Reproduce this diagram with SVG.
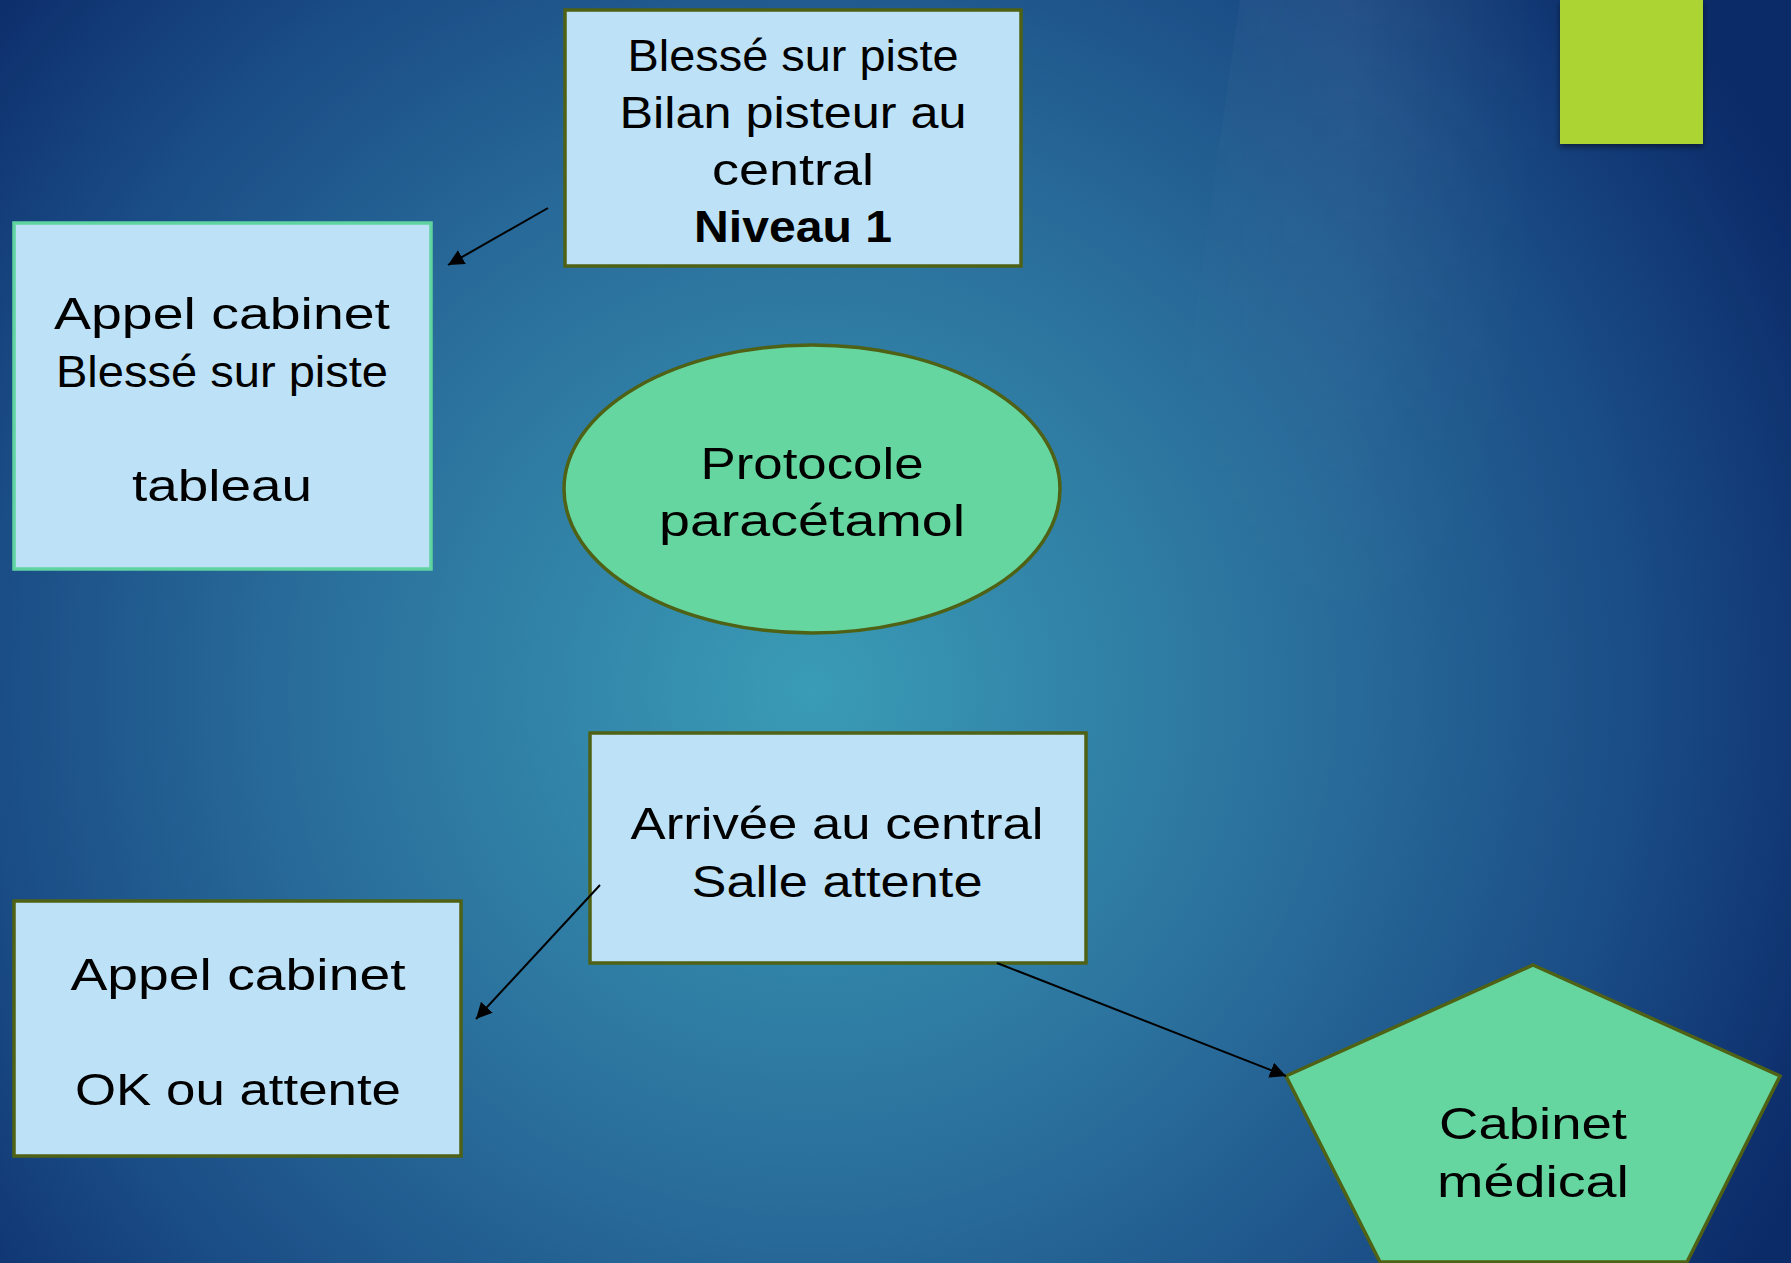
<svg xmlns="http://www.w3.org/2000/svg" width="1791" height="1263" viewBox="0 0 1791 1263">
<defs>
<radialGradient id="bg" cx="812" cy="690" r="1100" gradientUnits="userSpaceOnUse">
<stop offset="0" stop-color="#3a9cb6"/>
<stop offset="0.45" stop-color="#2a6f9c"/>
<stop offset="0.75" stop-color="#1a4c85"/>
<stop offset="1" stop-color="#0b2a68"/>
</radialGradient>
<linearGradient id="shine" x1="0" y1="0" x2="1" y2="0">
<stop offset="0" stop-color="#ffffff" stop-opacity="0"/>
<stop offset="0.5" stop-color="#ffffff" stop-opacity="0.06"/>
<stop offset="1" stop-color="#ffffff" stop-opacity="0"/>
</linearGradient>
<linearGradient id="fade" x1="0" y1="0" x2="0" y2="1">
<stop offset="0" stop-color="#fff"/>
<stop offset="0.6" stop-color="#fff" stop-opacity="0.3"/>
<stop offset="1" stop-color="#fff" stop-opacity="0"/>
</linearGradient>
<mask id="m" maskUnits="userSpaceOnUse" x="0" y="0" width="1791" height="1263">
<rect x="1100" y="0" width="500" height="700" fill="url(#fade)"/>
</mask>
<filter id="sh" x="-20%" y="-20%" width="140%" height="140%">
<feDropShadow dx="0" dy="3" stdDeviation="3" flood-color="#000" flood-opacity="0.5"/>
</filter>
<marker id="ah" viewBox="0 0 10 10" refX="10" refY="5" markerWidth="8" markerHeight="8" orient="auto" markerUnits="strokeWidth">
<path d="M0,0 L10,5 L0,10 Z" fill="#000"/>
</marker>
<style>
.box{fill:#bde2f7;stroke:#4f6114;stroke-width:3.5}
.box2{fill:#bde2f7;stroke:#5fd3a0;stroke-width:3.5}
.green{fill:#66d6a0;stroke:#4f6114;stroke-width:3.5}
.t{font-family:"Liberation Sans",Arial,sans-serif;font-size:44px;fill:#000;text-anchor:middle}
.b{font-weight:bold}
.c{stroke:#000;stroke-width:2;fill:none;marker-end:url(#ah)}
</style>
</defs>
<rect width="1791" height="1263" fill="url(#bg)"/>
<polygon points="1240,0 1560,0 1460,700 1140,700" fill="url(#shine)" mask="url(#m)"/>
<rect x="1560" y="0" width="143" height="144" fill="#acd433" filter="url(#sh)"/>

<g id="node-blesse-piste">
<rect class="box" x="565" y="10" width="456" height="256"/>
<text class="t" x="793" y="71" textLength="331" lengthAdjust="spacingAndGlyphs">Blessé sur piste</text>
<text class="t" x="793" y="128" textLength="347" lengthAdjust="spacingAndGlyphs">Bilan pisteur au</text>
<text class="t" x="793" y="185" textLength="162" lengthAdjust="spacingAndGlyphs">central</text>
<text class="t b" x="793" y="242" textLength="198" lengthAdjust="spacingAndGlyphs">Niveau 1</text>
</g>

<g id="node-appel-tableau">
<rect class="box2" x="14" y="223" width="417" height="346"/>
<text class="t" x="222" y="329" textLength="336" lengthAdjust="spacingAndGlyphs">Appel cabinet</text>
<text class="t" x="222" y="387" textLength="332" lengthAdjust="spacingAndGlyphs">Blessé sur piste</text>
<text class="t" x="222" y="501" textLength="180" lengthAdjust="spacingAndGlyphs">tableau</text>
</g>

<g id="node-protocole">
<ellipse class="green" cx="812" cy="489" rx="248" ry="144"/>
<text class="t" x="812" y="479" textLength="223" lengthAdjust="spacingAndGlyphs">Protocole</text>
<text class="t" x="812" y="536" textLength="306" lengthAdjust="spacingAndGlyphs">paracétamol</text>
</g>

<g id="node-arrivee">
<rect class="box" x="590" y="733" width="496" height="230"/>
<text class="t" x="837" y="839" textLength="413" lengthAdjust="spacingAndGlyphs">Arrivée au central</text>
<text class="t" x="837" y="897" textLength="291" lengthAdjust="spacingAndGlyphs">Salle attente</text>
</g>

<g id="node-appel-ok">
<rect class="box" x="14" y="901" width="447" height="255"/>
<text class="t" x="238" y="990" textLength="335" lengthAdjust="spacingAndGlyphs">Appel cabinet</text>
<text class="t" x="238" y="1105" textLength="326" lengthAdjust="spacingAndGlyphs">OK ou attente</text>
</g>

<g id="node-cabinet">
<polygon class="green" points="1533,965 1780,1076 1687,1262 1380,1262 1286,1076"/>
<text class="t" x="1533" y="1139" textLength="188" lengthAdjust="spacingAndGlyphs">Cabinet</text>
<text class="t" x="1533" y="1197" textLength="192" lengthAdjust="spacingAndGlyphs">médical</text>
</g>

<g id="connectors">
<line class="c" x1="548" y1="208" x2="448" y2="265"/>
<line class="c" x1="600" y1="885" x2="476" y2="1019"/>
<line class="c" x1="997" y1="963" x2="1286" y2="1076"/>
</g>
</svg>
